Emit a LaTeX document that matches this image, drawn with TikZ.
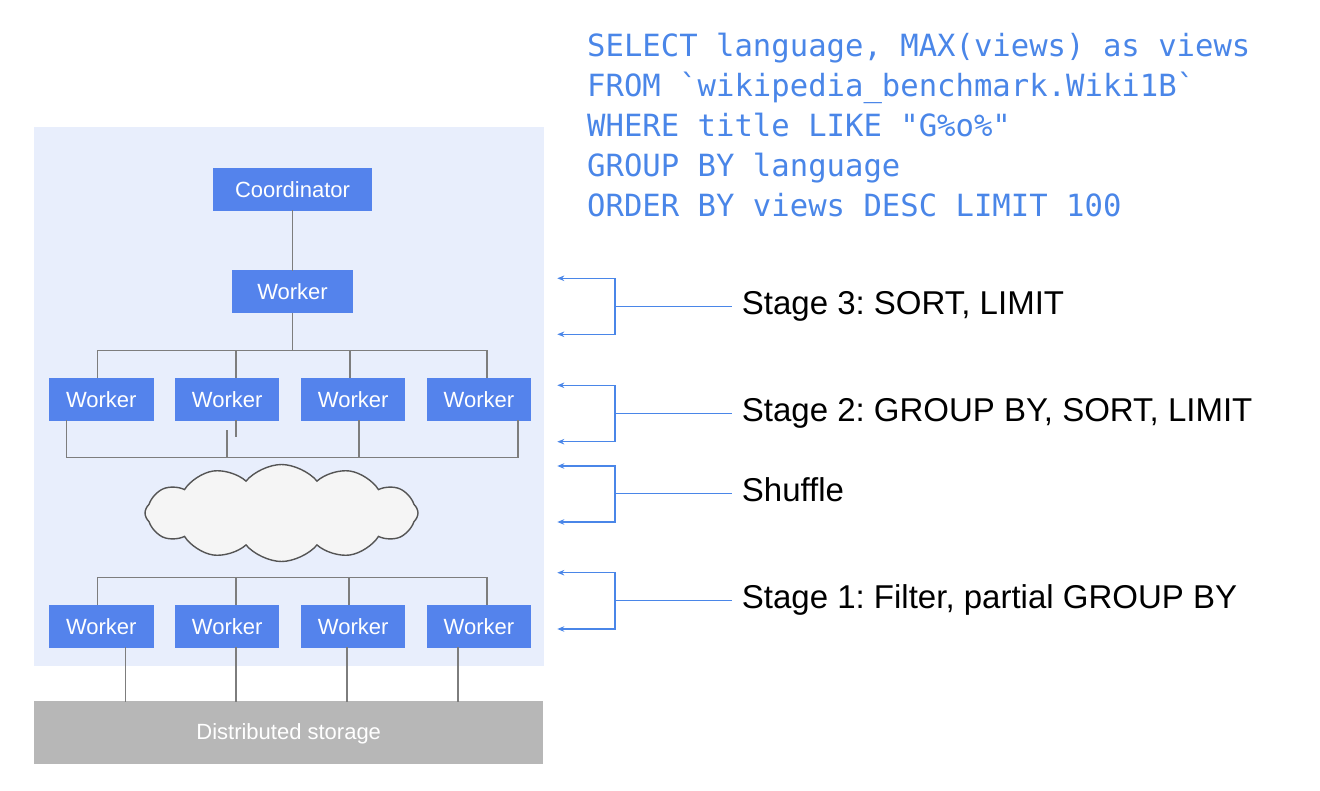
\documentclass[tikz,border=0pt]{standalone}
\usepackage{fontspec}
\setmainfont{Liberation Sans}
\newfontfamily\sqlfont{DejaVu Sans Mono}
\definecolor{gblue}{RGB}{84,131,236}
\definecolor{sqlblue}{RGB}{74,134,232}
\definecolor{bgblue}{RGB}{232,238,252}
\definecolor{wiregray}{RGB}{125,125,125}
\definecolor{storegray}{RGB}{183,183,183}
\definecolor{cloudfill}{RGB}{245,245,245}
\definecolor{cloudline}{RGB}{85,85,85}
\usetikzlibrary{arrows.meta,positioning,shapes.symbols,calc}
\frenchspacing

\begin{document}
\begin{tikzpicture}[x=1pt,y=-1pt,
  box/.style={fill=gblue,text=white,inner sep=0pt,minimum height=43pt,
              font=\fontsize{22}{26}\selectfont},
  worker/.style={box,minimum width=104.5pt},
  wire/.style={draw=wiregray,line width=1.5pt,line cap=rect},
  brk/.style={draw=sqlblue,line width=1.3pt},
  brkarrow/.style={brk,-{Stealth[length=7pt,width=5.5pt]}},
  stagelbl/.style={anchor=west,inner xsep=10pt,inner ysep=0pt,
                   text height=23pt,text depth=7pt,
                   font=\fontsize{33}{38}\selectfont},
  sqlline/.style={anchor=base west,inner sep=0pt,text=sqlblue,
                  font=\sqlfont\fontsize{30.6}{40}\selectfont}]
  \useasboundingbox (0,0) rectangle (1320,790);

  %% Cluster background and storage
  \node[fill=bgblue,inner sep=0pt,anchor=north west,
        minimum width=509.5pt,minimum height=538.5pt] (slot) at (34,127) {};
  \node[fill=storegray,text=white,inner sep=0pt,
        minimum width=509.5pt,minimum height=63pt,
        text height=16pt,text depth=2pt,
        font=\fontsize{22}{26}\selectfont] (store) at (288.7,732.5)
        {Distributed storage};

  %% Coordinator and stage 3 worker
  \node[box,minimum width=159pt] (coord) at (292.5,189.5) {Coordinator};
  \node[box,minimum width=121pt] (wtop) at (292.5,291.8) {Worker};

  %% Stage 2 workers
  \node[worker] (wb1) at (101.3,399.2) {Worker};
  \node[worker] (wb2) at (227.2,399.2) {Worker};
  \node[worker] (wb3) at (353.2,399.2) {Worker};
  \node[worker] (wb4) at (478.9,399.2) {Worker};

  %% Shuffle cloud
  \node[cloud,draw=cloudline,fill=cloudfill,line width=1.4pt,
        cloud puffs=12,cloud puff arc=100,aspect=2.8,inner sep=0pt,
        minimum width=273pt,minimum height=97pt] (shuffle) at (281.5,513) {};

  %% Stage 1 workers
  \node[worker] (wa1) at (101.3,626.4) {Worker};
  \node[worker] (wa2) at (227.2,626.4) {Worker};
  \node[worker] (wa3) at (353.2,626.4) {Worker};
  \node[worker] (wa4) at (478.9,626.4) {Worker};

  %% Wires: coordinator down to stage 2
  \coordinate (busB) at (0,350.3);
  \draw[wire] (coord.south) -- (wtop.north);
  \draw[wire] (wtop.south) -- (wtop.south |- busB);
  \draw[wire] ([xshift=-4pt]wb1.north |- busB) -- ([xshift=8pt]wb4.north |- busB);
  \draw[wire] ([xshift=-4pt]wb1.north) -- ([xshift=-4pt]wb1.north |- busB);
  \draw[wire] ([xshift=9pt]wb2.north) -- ([xshift=9pt]wb2.north |- busB);
  \draw[wire] ([xshift=-3pt]wb3.north) -- ([xshift=-3pt]wb3.north |- busB);
  \draw[wire] ([xshift=8pt]wb4.north) -- ([xshift=8pt]wb4.north |- busB);

  %% Wires: stage 2 into shuffle
  \coordinate (busC) at (0,457.3);
  \draw[wire] ([xshift=-35pt]wb1.south |- busC) -- ([xshift=39pt]wb4.south |- busC);
  \draw[wire] ([xshift=-35pt]wb1.south) -- ([xshift=-35pt]wb1.south |- busC);
  \draw[wire] ([xshift=9pt]wb2.south) -- ([xshift=9pt,yshift=-15pt]wb2.south);
  \draw[wire] ([yshift=-10pt]wb2.south) -- (wb2.south |- busC);
  \draw[wire] ([xshift=6pt]wb3.south) -- ([xshift=6pt]wb3.south |- busC);
  \draw[wire] ([xshift=39pt]wb4.south) -- ([xshift=39pt]wb4.south |- busC);

  %% Wires: shuffle out to stage 1
  \coordinate (busD) at (0,577.3);
  \draw[wire] ([xshift=-4pt]wa1.north |- busD) -- ([xshift=8pt]wa4.north |- busD);
  \draw[wire] ([xshift=-4pt]wa1.north) -- ([xshift=-4pt]wa1.north |- busD);
  \draw[wire] ([xshift=9pt]wa2.north) -- ([xshift=9pt]wa2.north |- busD);
  \draw[wire] ([xshift=-4pt]wa3.north) -- ([xshift=-4pt]wa3.north |- busD);
  \draw[wire] ([xshift=8pt]wa4.north) -- ([xshift=8pt]wa4.north |- busD);

  %% Wires: stage 1 down to storage
  \draw[wire] ([xshift=24pt]wa1.south) -- ([xshift=24pt]wa1.south |- store.north);
  \draw[wire] ([xshift=9pt]wa2.south) -- ([xshift=9pt]wa2.south |- store.north);
  \draw[wire] ([xshift=-6pt]wa3.south) -- ([xshift=-6pt]wa3.south |- store.north);
  \draw[wire] ([xshift=-21pt]wa4.south) -- ([xshift=-21pt]wa4.south |- store.north);

  %% Query text
  \node[sqlline] (sql1) at (587,56) {SELECT language, MAX(views) as views};
  \node[sqlline] (sql2) at (587,96) {FROM \textasciigrave wikipedia\_benchmark.Wiki1B\textasciigrave};
  \node[sqlline] (sql3) at (587,136) {WHERE title LIKE "G\%o\%"};
  \node[sqlline] (sql4) at (587,176) {GROUP BY language};
  \node[sqlline] (sql5) at (587,216) {ORDER BY views DESC LIMIT 100};

  %% Stage 3 bracket
  \coordinate (s3top) at (557.3,278.3);
  \coordinate (s3bot) at (557.3,334.3);
  \coordinate (s3mid) at (615,306.3);
  \node[stagelbl] (s3) at (731.7,306.3) {Stage 3: SORT, LIMIT};
  \draw[brkarrow] (s3mid) |- (s3top);
  \draw[brkarrow] (s3mid) |- (s3bot);
  \draw[brk] (s3mid) -- (s3.west);

  %% Stage 2 bracket
  \coordinate (s2top) at (557.3,385.3);
  \coordinate (s2bot) at (557.3,441.7);
  \coordinate (s2mid) at (615,413.3);
  \node[stagelbl] (s2) at (731.7,413.3) {Stage 2: GROUP BY, SORT, LIMIT};
  \draw[brkarrow] (s2mid) |- (s2top);
  \draw[brkarrow] (s2mid) |- (s2bot);
  \draw[brk] (s2mid) -- (s2.west);

  %% Shuffle bracket
  \coordinate (shtop) at (557.3,466);
  \coordinate (shbot) at (557.3,522);
  \coordinate (shmid) at (615,493.7);
  \node[stagelbl] (sh) at (731.7,493.7) {Shuffle};
  \draw[brkarrow] (shmid) |- (shtop);
  \draw[brkarrow] (shmid) |- (shbot);
  \draw[brk] (shmid) -- (sh.west);

  %% Stage 1 bracket
  \coordinate (s1top) at (557.3,572.7);
  \coordinate (s1bot) at (557.3,629);
  \coordinate (s1mid) at (615,600.7);
  \node[stagelbl] (s1) at (731.7,600.7) {Stage 1: Filter, partial GROUP BY};
  \draw[brkarrow] (s1mid) |- (s1top);
  \draw[brkarrow] (s1mid) |- (s1bot);
  \draw[brk] (s1mid) -- (s1.west);
\end{tikzpicture}
\end{document}
